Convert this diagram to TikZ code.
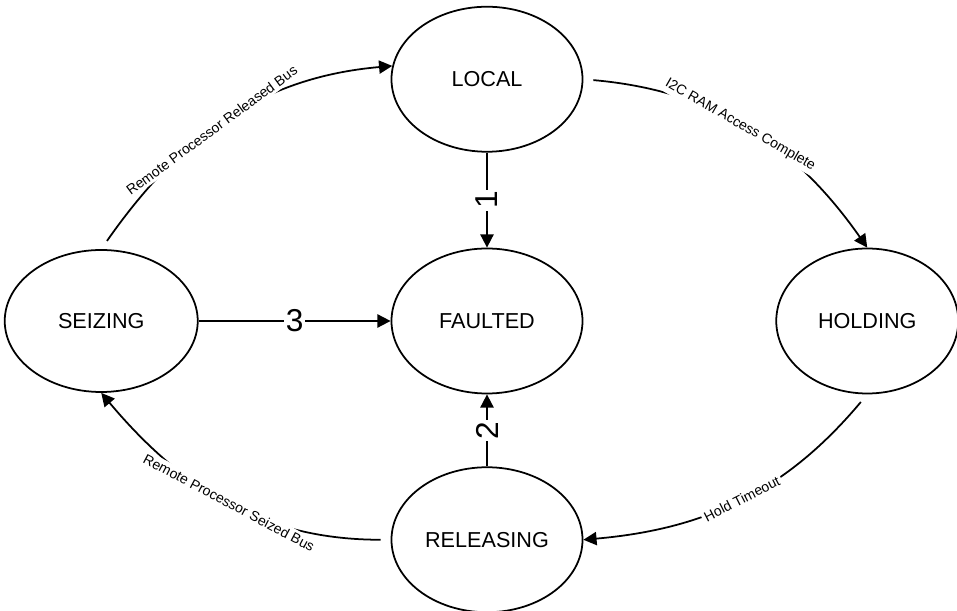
\documentclass[tikz,border=0pt]{standalone}
\usepackage{fontspec}
\setmainfont{Liberation Sans}
\usetikzlibrary{shapes.geometric, arrows.meta, positioning}

\begin{document}
\begin{tikzpicture}[
    node distance=1.9cm and 3.84cm,
    % styles
    state/.style={ellipse, draw=black, line width=1pt, minimum width=3.82cm, minimum height=2.9cm, inner sep=0pt, font=\fontsize{12.3}{14}\selectfont},
    trans/.style={-{Triangle[length=7.5pt, width=7.5pt]}, line width=1pt},
    bendtrans/.style={trans, shorten <=0.2cm},
    edgelabel/.style={sloped, fill=white, inner sep=1.5pt, font=\fontsize{8}{9.5}\selectfont},
    numlabel/.style={fill=white, inner sep=1pt, font=\fontsize{18}{20}\selectfont}
]
    \useasboundingbox (-9.74,-5.80) rectangle (9.40,6.42);

    % --- states ---
    \node (faulted) [state] {FAULTED};
    \node (local) [state, above=of faulted] {LOCAL};
    \node (seizing) [state, left=of faulted, minimum width=3.86cm, minimum height=2.84cm] {SEIZING};
    \node (holding) [state, right=of faulted, minimum width=3.64cm] {HOLDING};
    \node (releasing) [state, below=1.44cm of faulted] {RELEASING};

    % --- bus hand-over cycle ---
    \draw [bendtrans] (seizing.north) to[out=55, in=185] node[edgelabel, pos=0.45] {Remote Processor Released Bus} (local.172);
    \draw [bendtrans] (local.east) to[out=-5, in=125] node[edgelabel, pos=0.48] {I2C RAM Access Complete} (holding.north);
    \draw [bendtrans] (holding.south) to[out=-130, in=5] node[edgelabel, pos=0.5] {Hold Timeout} (releasing.east);
    \draw [bendtrans] (releasing.west) to[out=180, in=-50] node[edgelabel] {Remote Processor Seized Bus} (seizing.south);

    % --- fault paths ---
    \draw [trans] (local) -- node[numlabel, rotate=90] {1} (faulted);
    \draw [trans] (releasing) -- node[numlabel, rotate=90] {2} (faulted);
    \draw [trans] (seizing) -- node[numlabel] {3} (faulted);

\end{tikzpicture}
\end{document}
